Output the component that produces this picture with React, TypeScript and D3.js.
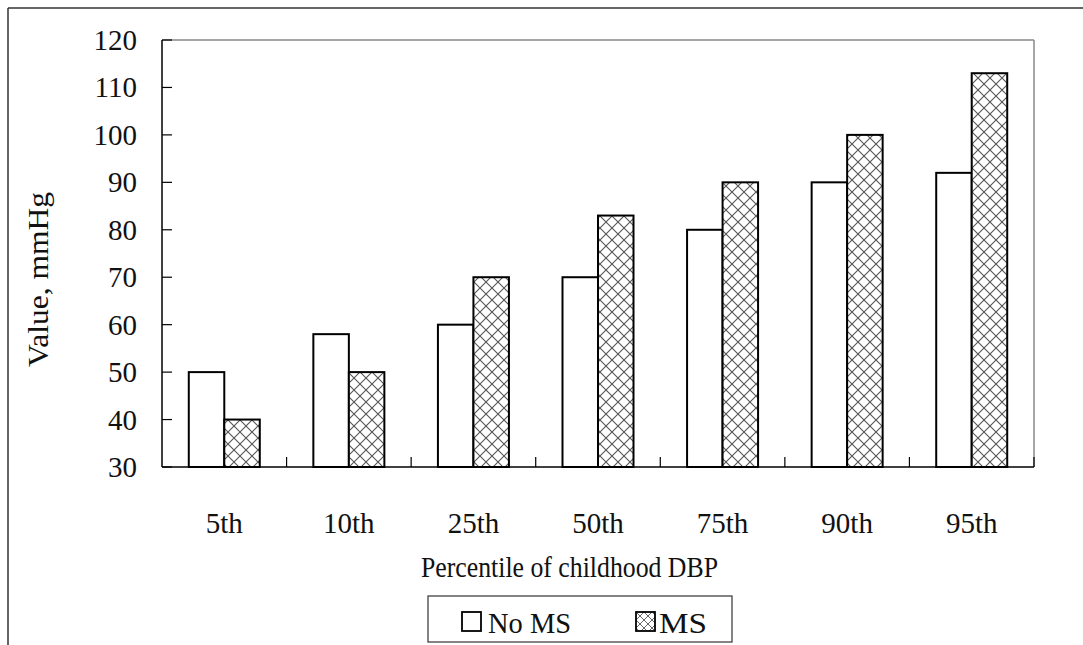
import * as d3 from "d3";

const CATEGORIES = ["5th", "10th", "25th", "50th", "75th", "90th", "95th"];
const SERIES = ["No MS", "MS"];
const NO_MS = [50, 58, 60, 70, 80, 90, 92];
const MS = [40, 50, 70, 83, 90, 100, 113];
const Y_TICKS = [30, 40, 50, 60, 70, 80, 90, 100, 110, 120];

const W = 1083;
const H = 645;
const FONT = '"Liberation Serif", "DejaVu Serif", serif';

const left = 162;
const right = 1034;
const top = 40;
const bottom = 467;

export default function App() {
  const x = d3.scaleBand<string>().domain(CATEGORIES).range([left, right]).padding(0);
  const y = d3.scaleLinear().domain([30, 120]).range([bottom, top]);
  const bw = x.bandwidth();
  const groupW = bw * 0.57;
  const sub = d3.scaleBand<string>().domain(SERIES).range([0, groupW]).padding(0);

  const rows = CATEGORIES.map((c, i) => ({ cat: c, values: [NO_MS[i], MS[i]] }));
  const txt = { fontFamily: FONT, fontSize: 29, fill: "#111" } as const;

  return (
    <svg
      width={W}
      height={H}
      style={{ position: "absolute", left: 0, top: 0, background: "#fff", fontFamily: FONT }}
    >
      <defs>
        <pattern id="xhatch" width={12} height={12} patternUnits="userSpaceOnUse" x={0} y={0}>
          <rect width={12} height={12} fill="#fff" />
          <path d="M0,0 L12,12 M12,0 L0,12" stroke="#555" strokeWidth={1.1} />
        </pattern>
        <pattern id="xhatchSmall" width={8} height={8} patternUnits="userSpaceOnUse">
          <rect width={8} height={8} fill="#fff" />
          <path d="M0,0 L8,8 M8,0 L0,8" stroke="#666" strokeWidth={1} />
        </pattern>
      </defs>

      {/* outer frame (left and top edges visible) */}
      <line x1={8} y1={8} x2={W} y2={8} stroke="#333" strokeWidth={1.5} />
      <line x1={8} y1={8} x2={8} y2={H} stroke="#333" strokeWidth={1.5} />

      {/* plot area top/right border */}
      <line x1={left} y1={top} x2={right} y2={top} stroke="#888" strokeWidth={1.5} />
      <line x1={right} y1={top} x2={right} y2={bottom} stroke="#888" strokeWidth={1.5} />

      {/* bars */}
      {rows.map((r) => {
        const gx = (x(r.cat) ?? 0) + (bw - groupW) / 2;
        return (
          <g key={r.cat}>
            {r.values.map((v, j) => (
              <rect
                key={SERIES[j]}
                x={gx + (sub(SERIES[j]) ?? 0)}
                y={y(v)}
                width={sub.bandwidth()}
                height={bottom - y(v)}
                fill={j === 0 ? "#fff" : "url(#xhatch)"}
                stroke="#000"
                strokeWidth={2}
              />
            ))}
          </g>
        );
      })}

      {/* y axis */}
      <line x1={left} y1={top} x2={left} y2={bottom} stroke="#000" strokeWidth={1.5} />
      {Y_TICKS.map((t) => (
        <g key={t}>
          <line x1={left} y1={y(t)} x2={left + 10} y2={y(t)} stroke="#000" strokeWidth={1.2} />
          <text x={137} y={y(t) + 10} textAnchor="end" style={txt}>
            {t}
          </text>
        </g>
      ))}

      {/* x axis */}
      <line x1={left} y1={bottom} x2={right} y2={bottom} stroke="#000" strokeWidth={1.5} />
      {CATEGORIES.slice(1).map((c) => (
        <line
          key={c}
          x1={x(c) ?? 0}
          y1={bottom}
          x2={x(c) ?? 0}
          y2={bottom - 10}
          stroke="#000"
          strokeWidth={1.2}
        />
      ))}
      <line x1={right} y1={bottom} x2={right} y2={bottom - 10} stroke="#000" strokeWidth={1.2} />
      {CATEGORIES.map((c) => (
        <text key={c} x={(x(c) ?? 0) + bw / 2} y={533} textAnchor="middle" style={txt}>
          {c}
        </text>
      ))}

      {/* axis titles */}
      <text x={421} y={577} style={txt} textLength={297} lengthAdjust="spacingAndGlyphs">
        Percentile of childhood DBP
      </text>
      <text
        transform="translate(48,367) rotate(-90)"
        style={txt}
        textLength={175}
        lengthAdjust="spacingAndGlyphs"
      >
        Value, mmHg
      </text>

      {/* legend */}
      <rect x={428} y={596} width={304} height={46} fill="#fff" stroke="#333" strokeWidth={1.2} />
      <rect x={462} y={612} width={19} height={19} fill="#fff" stroke="#000" strokeWidth={1.8} />
      <text x={488} y={633} style={txt} textLength={83} lengthAdjust="spacingAndGlyphs">
        {SERIES[0]}
      </text>
      <rect x={636} y={612} width={19} height={19} fill="url(#xhatchSmall)" stroke="#000" strokeWidth={1.8} />
      <text x={659} y={633} style={txt} textLength={48} lengthAdjust="spacingAndGlyphs">
        {SERIES[1]}
      </text>
    </svg>
  );
}
